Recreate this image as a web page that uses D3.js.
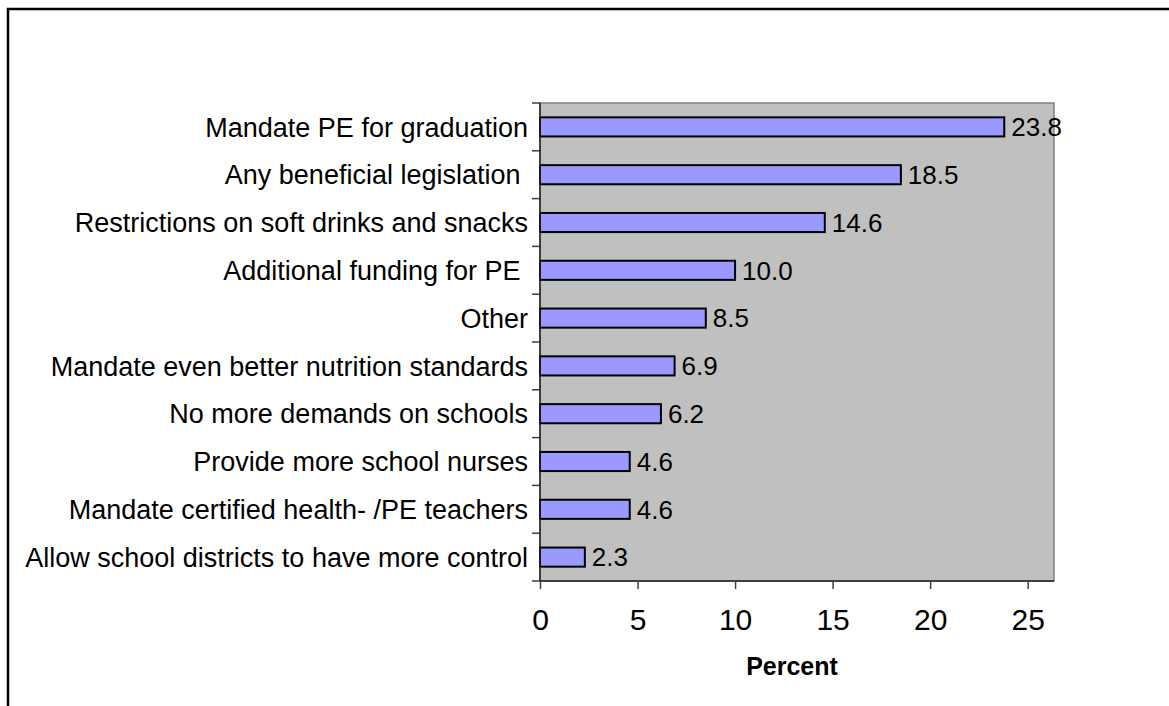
<!DOCTYPE html>
<html>
<head>
<meta charset="utf-8">
<script src="https://cdn.jsdelivr.net/npm/d3@7"></script>
<style>
  html, body { margin: 0; padding: 0; background: #fff; }
  svg { display: block; }
  text { font-family: "Liberation Sans", Arial, sans-serif; }
</style>
</head>
<body>
<svg id="chart" width="1169" height="706"></svg>
<script>
// Survey responses: desired state actions, percent of respondents
const categories = [
  "Mandate PE for graduation",
  "Any beneficial legislation ",
  "Restrictions on soft drinks and snacks",
  "Additional funding for PE ",
  "Other",
  "Mandate even better nutrition standards",
  "No more demands on schools",
  "Provide more school nurses",
  "Mandate certified health- /PE teachers",
  "Allow school districts to have more control"
];
const percents = [23.8, 18.5, 14.6, 10.0, 8.5, 6.9, 6.2, 4.6, 4.6, 2.3];
const xTicks = [0, 5, 10, 15, 20, 25];
const xTitle = "Percent";

const svg = d3.select("#chart");

// Outer chart frame (runs off the right and bottom edges)
svg.append("rect")
  .attr("x", 8).attr("y", 9)
  .attr("width", 1200).attr("height", 740)
  .attr("fill", "none").attr("stroke", "#000").attr("stroke-width", 2.5);

const plot = { left: 540, right: 1054, top: 103, bottom: 581 };

const x = d3.scaleLinear().domain([0, 26.35]).range([plot.left, plot.right]);
const y = d3.scaleBand().domain(categories).range([plot.top, plot.bottom]).paddingInner(0.6).paddingOuter(0.3);
const yTick = d3.scaleBand().domain(categories).range([plot.top, plot.bottom]);

// Plot area
svg.append("rect")
  .attr("x", plot.left).attr("y", plot.top)
  .attr("width", plot.right - plot.left).attr("height", plot.bottom - plot.top)
  .attr("fill", "#C0C0C0").attr("stroke", "#808080").attr("stroke-width", 1.5);

// Bars
svg.append("g").selectAll("rect").data(percents).join("rect")
  .attr("x", x(0))
  .attr("y", (d, i) => y(categories[i]))
  .attr("width", d => x(d) - x(0))
  .attr("height", y.bandwidth())
  .attr("fill", "#9999FF")
  .attr("stroke", "#000").attr("stroke-width", 2);

// Value labels
svg.append("g").selectAll("text").data(percents).join("text")
  .attr("x", d => x(d) + 7)
  .attr("y", (d, i) => y(categories[i]) + y.bandwidth() / 2)
  .attr("dy", "0.36em")
  .attr("font-size", 26)
  .attr("fill", "#000")
  .text(d => d.toFixed(1));

// Category axis
const yAxis = svg.append("g")
  .attr("transform", `translate(${plot.left},0)`)
  .call(d3.axisLeft(yTick).tickSize(0).tickPadding(12));
yAxis.select(".domain").remove();
yAxis.selectAll("text")
  .attr("font-size", 27).attr("fill", "#000")
  .attr("font-family", "'Liberation Sans', Arial, sans-serif")
  .style("white-space", "pre")
  .attr("dy", "0.36em");

// Tick marks between categories
const bounds = categories.map(c => yTick(c)).concat([plot.bottom]);
svg.append("g").selectAll("line").data(bounds).join("line")
  .attr("x1", plot.left - 8).attr("x2", plot.left)
  .attr("y1", d => d).attr("y2", d => d)
  .attr("stroke", "#404040").attr("stroke-width", 1.5);

svg.append("line")
  .attr("x1", plot.left).attr("x2", plot.left)
  .attr("y1", plot.top).attr("y2", plot.bottom)
  .attr("stroke", "#202020").attr("stroke-width", 1.5);

// Value axis
const xAxis = svg.append("g")
  .attr("transform", `translate(0,${plot.bottom})`)
  .call(d3.axisBottom(x).tickValues(xTicks).tickSize(8).tickPadding(20).tickFormat(d3.format("d")));
xAxis.select(".domain")
  .attr("d", `M${plot.left},0H${plot.right}`)
  .attr("stroke", "#202020").attr("stroke-width", 1.5);
xAxis.selectAll(".tick line").attr("stroke", "#404040").attr("stroke-width", 1.5);
xAxis.selectAll("text")
  .attr("font-size", 30).attr("fill", "#000")
  .attr("font-family", "'Liberation Sans', Arial, sans-serif");

svg.append("text")
  .attr("x", 792)
  .attr("y", 675)
  .attr("text-anchor", "middle")
  .attr("font-size", 25).attr("font-weight", "bold")
  .text(xTitle);
</script>
</body>
</html>
